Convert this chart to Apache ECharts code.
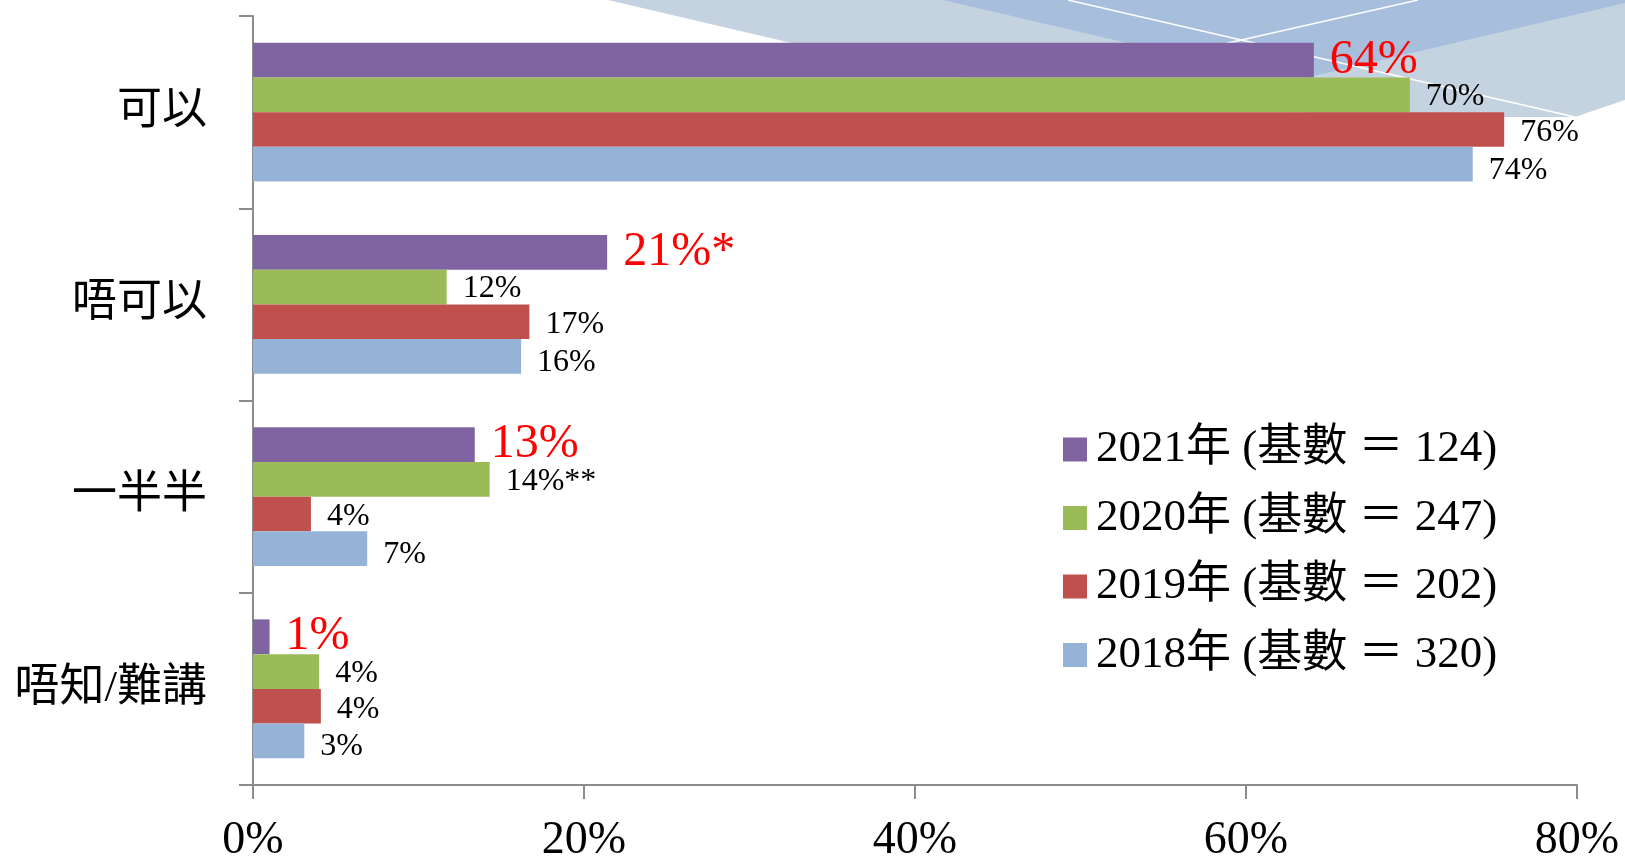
<!DOCTYPE html>
<html>
<head>
<meta charset="utf-8">
<script src="https://cdn.jsdelivr.net/npm/echarts@6/dist/echarts.min.js"></script>
<style>
  html, body { margin: 0; padding: 0; background: #fff; }
  #chart { width: 1625px; height: 861px; }
</style>
</head>
<body>
<div id="chart"></div>
<script>
    // 類別 (由上至下)
    var categories = ['可以', '唔可以', '一半半', '唔知/難講'];
    var years = ['2021', '2020', '2019', '2018'];
    var bases = [124, 247, 202, 320];
    // 百分比 (按類別次序)
    var data2021 = [64.1, 21.4, 13.4, 1.0];
    var data2020 = [69.9, 11.7, 14.3, 4.0];
    var data2019 = [75.6, 16.7, 3.5, 4.1];
    var data2018 = [73.7, 16.2, 6.9, 3.1];
    // 標籤後的星號
    var notes2021 = ['', '*', '', ''];
    var notes2020 = ['', '', '**', ''];
    var notes2019 = ['', '', '', ''];
    var notes2018 = ['', '', '', ''];
    var xTicks = [0, 20, 40, 60, 80];

    var colors = ['#8064a2', '#9bbb59', '#c0504d', '#95b3d7'];
    var labelOffsets = [[0, 0], [0, 2], [0, 3], [0, 6]];
    var serif = '"Liberation Serif", "Noto Sans CJK TC", serif';

    function makeSeries(idx, values, notes) {
        var highlight = idx === 0;
        return {
            name: years[idx] + '年 (基數 ＝ ' + bases[idx] + ')',
            type: 'bar',
            data: values,
            barGap: 0,
            barCategoryGap: '27.7%',
            itemStyle: { color: colors[idx] },
            label: {
                show: true,
                position: 'right',
                distance: 16,
                offset: labelOffsets[idx],
                fontFamily: serif,
                fontSize: highlight ? 48 : 32,
                color: highlight ? '#ff0000' : '#000',
                formatter: function (p) {
                    return Math.round(p.value) + '%' + notes[p.dataIndex];
                }
            }
        };
    }

    var chart = echarts.init(document.getElementById('chart'));
    var option = {
        animation: false,
        backgroundColor: '#fff',
        // 背景裝飾
        graphic: [
            {
                type: 'polygon', z: 0,
                shape: { points: [[608, 0], [800, 45], [1000, 85], [1200, 108], [1400, 117], [1575, 117], [1625, 100], [1625, 0]] },
                style: { fill: '#c5d3e0' }
            },
            {
                type: 'polygon', z: 0,
                shape: { points: [[943, 0], [1123, 42], [1305, 78], [1625, 3], [1625, 0]] },
                style: { fill: '#a7bfdd' }
            },
            {
                type: 'line', z: 1,
                shape: { x1: 1068, y1: 0, x2: 1575, y2: 117 },
                style: { stroke: '#ffffff', lineWidth: 1.5 }
            },
            {
                type: 'line', z: 1,
                shape: { x1: 1418, y1: 0, x2: 1100, y2: 72 },
                style: { stroke: '#ffffff', lineWidth: 1.5 }
            }
        ],
        grid: { left: 253, right: 48, top: 16, bottom: 76, outerBoundsMode: 'none' },
        legend: {
            orient: 'vertical',
            left: 1058,
            top: 422,
            icon: 'rect',
            itemWidth: 24,
            itemHeight: 24,
            itemGap: 23.5,
            textStyle: {
                fontFamily: serif,
                fontSize: 45,
                lineHeight: 44,
                color: '#000',
                padding: [0, 0, 0, 4]
            }
        },
        xAxis: {
            type: 'value',
            min: xTicks[0],
            max: xTicks[xTicks.length - 1],
            interval: xTicks[1] - xTicks[0],
            splitLine: { show: false },
            axisLine: { show: true, lineStyle: { color: '#8c8c8c', width: 2 } },
            axisTick: { show: true, length: 14, lineStyle: { color: '#8c8c8c', width: 2 } },
            axisLabel: {
                margin: 33,
                fontFamily: serif,
                fontSize: 46,
                color: '#000',
                formatter: '{value}%'
            }
        },
        yAxis: {
            type: 'category',
            data: categories,
            inverse: true,
            axisLine: { show: true, lineStyle: { color: '#8c8c8c', width: 2 } },
            axisTick: { show: true, length: 14, lineStyle: { color: '#8c8c8c', width: 2 } },
            axisLabel: {
                margin: 46,
                fontFamily: serif,
                fontSize: 45,
                color: '#000'
            }
        },
        series: [
            makeSeries(0, data2021, notes2021),
            makeSeries(1, data2020, notes2020),
            makeSeries(2, data2019, notes2019),
            makeSeries(3, data2018, notes2018)
        ]
    };
    chart.setOption(option);
</script>
</body>
</html>
